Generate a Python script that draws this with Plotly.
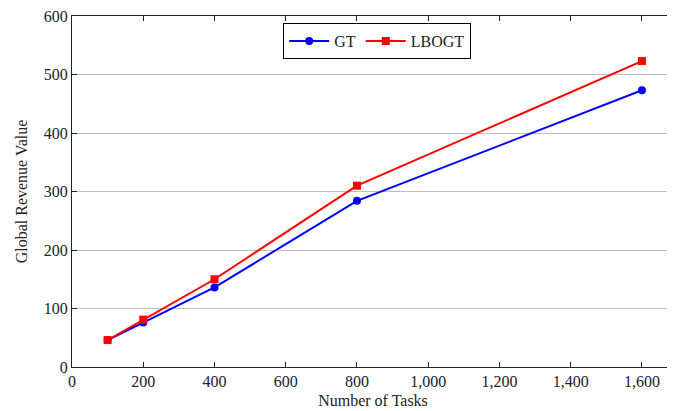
import plotly.graph_objects as go

tasks = [100, 200, 400, 800, 1600]
gt = [46, 76, 136, 284, 473]
lbogt = [46, 81, 150, 310, 523]

font = "Liberation Serif, DejaVu Serif, serif"

fig = go.Figure()
fig.add_trace(go.Scatter(x=tasks, y=gt, name="GT", mode="lines+markers",
                         line=dict(color="#0000ff", width=2),
                         marker=dict(symbol="circle", size=8, color="#0000ff")))
fig.add_trace(go.Scatter(x=tasks, y=lbogt, name="LBOGT", mode="lines+markers",
                         line=dict(color="#ff0000", width=2),
                         marker=dict(symbol="square", size=8, color="#ff0000")))

# page body has an 8px margin, so the figure is sized/placed to compensate
fig.update_layout(
    width=667, height=403,
    margin=dict(l=64, r=1, t=8, b=44),
    paper_bgcolor="white", plot_bgcolor="white",
    font=dict(family=font, size=16, color="#222"),
    legend=dict(orientation="h", x=0.507, xanchor="center", y=0.98, yanchor="top",
                bordercolor="black", borderwidth=1, bgcolor="white",
                font=dict(size=16), itemwidth=40),
    xaxis=dict(range=[0, 1690], tickvals=[0, 200, 400, 600, 800, 1000, 1200, 1400, 1600],
               tickformat=",", showgrid=False, zeroline=False, automargin=False,
               showline=True, linecolor="#222", linewidth=1, mirror="ticks",
               ticks="inside", ticklen=5, tickcolor="#222",
               ticklabeloverflow="allow",
               title=dict(text="Number of Tasks", standoff=5, font=dict(size=16))),
    yaxis=dict(range=[0, 600], tickvals=[0, 100, 200, 300, 400, 500, 600],
               showgrid=True, gridcolor="#c0c0c0", gridwidth=1, zeroline=False,
               automargin=False,
               showline=True, linecolor="#222", linewidth=1, mirror="ticks",
               ticks="inside", ticklen=5, tickcolor="#222",
               ticklabeloverflow="allow",
               title=dict(text="Global Revenue Value", standoff=12, font=dict(size=16))),
)

fig.write_html("out.html")
